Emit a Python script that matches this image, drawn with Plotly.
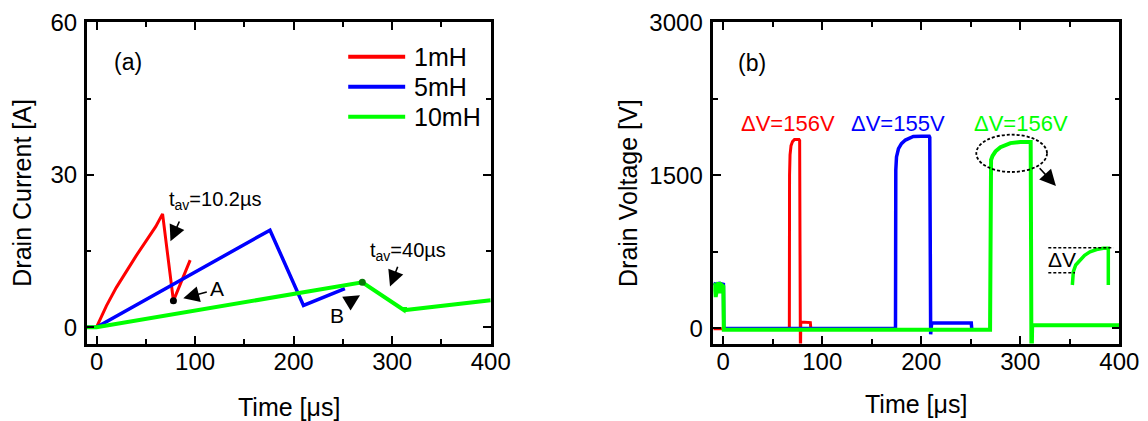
import plotly.graph_objects as go

# ---------------- data: panel (a) drain current ----------------
t_1mH_a = [0, 5, 10, 20, 30, 40, 50, 60, 67, 78, 95]
i_1mH_a = [0, 2.2, 4.2, 7.8, 11.0, 14.0, 16.9, 19.8, 22.3, 5.2, 13.2]
t_5mH_a = [-10, 0, 176, 210, 252]
i_5mH_a = [0, 0, 19.1, 4.3, 7.6]
t_10mH_a = [-10, 0, 269.7, 312.2, 313, 313.6, 400]
i_10mH_a = [0, 0, 8.84, 3.35, 3.9, 3.4, 5.3]
point_A = (78, 5.2)
point_B = (269.7, 8.84)

# ---------------- data: panel (b) drain voltage ----------------
t_1mH_b = [-10, 66.8, 67.0, 67.5, 68.5, 70, 72, 76.5, 77.2, 77.5, 78.0, 78.3, 79, 88, 88.5, 95]
v_1mH_b = [-5, -5, 1500, 1700, 1790, 1830, 1850, 1850, 1840, 1000, -400, 50, 60, 55, -5, -5]
t_5mH_b = [-10, -7, -4, -1, 0.2, 0.6, 174, 174.3, 175, 177, 180, 184, 188, 192, 200, 208,
           208.6, 209, 209.5, 210.5, 250.5, 251]
v_5mH_b = [440, 430, 440, 430, 430, -4, -4, 1550, 1680, 1760, 1810, 1845, 1865, 1880, 1882, 1882,
           1870, 500, -60, 50, 50, -4]
t_10mH_b = [-10, -8.8, -7.6, -6.2, -4.9, -3.2, -1.6, 0.2, 0.6, 269.5, 269.9, 270.5, 272, 275, 280,
            285, 290, 300, 310.5, 310.9, 311.3, 312, 313, 400]
v_10mH_b = [440, 420, 306, 420, 451, 345, 424, 410, -14, -14, 1400, 1650, 1690, 1735, 1775,
            1800, 1815, 1825, 1825, 800, -400, 20, 30, 30]
# magnified inset of the 10mH plateau
t_inset = [352.6, 353.6, 356, 360.3, 365, 370.4, 377, 383.9, 388.9, 388.9]
v_inset = [423.7, 554, 620, 669, 715, 750, 772, 783.6, 783.6, 423.7]

series_names = ["1mH", "5mH", "10mH"]
series_colors = ["#FF0000", "#0000FF", "#00FF00"]
series_widths = [3, 3.5, 4]

FONT = "Liberation Sans, Arial, sans-serif"

fig = go.Figure()

data_a = [(t_1mH_a, i_1mH_a), (t_5mH_a, i_5mH_a), (t_10mH_a, i_10mH_a)]
data_b = [(t_1mH_b, v_1mH_b), (t_5mH_b, v_5mH_b), (t_10mH_b, v_10mH_b)]
for k in range(3):
    fig.add_trace(go.Scatter(x=data_a[k][0], y=data_a[k][1], mode="lines", name=series_names[k],
                             line=dict(color=series_colors[k], width=series_widths[k]),
                             xaxis="x", yaxis="y", showlegend=False))
for k in range(3):
    fig.add_trace(go.Scatter(x=data_b[k][0], y=data_b[k][1], mode="lines", name=series_names[k],
                             line=dict(color=series_colors[k], width=series_widths[k]),
                             xaxis="x2", yaxis="y2", showlegend=False))
fig.add_trace(go.Scatter(x=t_inset, y=v_inset, mode="lines", name="10mH inset",
                         line=dict(color="#00FF00", width=3.5), xaxis="x2", yaxis="y2", showlegend=False))
fig.add_trace(go.Scatter(x=[point_A[0]], y=[point_A[1]], mode="markers", marker=dict(color="black", size=7),
                         xaxis="x", yaxis="y", showlegend=False))
fig.add_trace(go.Scatter(x=[point_B[0]], y=[point_B[1]], mode="markers", marker=dict(color="#0A7A0A", size=7),
                         xaxis="x", yaxis="y", showlegend=False))

W, H = 1148, 421
def px(x):
    return x / W
def py(y):
    return (H - y) / H

axis_common = dict(showline=True, linewidth=2.5, linecolor="black", mirror="allticks",
                   ticks="inside", ticklen=8, tickwidth=2, tickcolor="black",
                   showgrid=False, zeroline=False, automargin=False,
                   tickfont=dict(family=FONT, size=24, color="black"))

ydom = [py(343.5), py(22.3)]
fig.update_layout(
    template="none",
    width=W, height=H, margin=dict(l=0, r=0, t=0, b=0, autoexpand=False),
    plot_bgcolor="white", paper_bgcolor="white",
    font=dict(family=FONT, color="black"),
    xaxis=dict(domain=[px(86.7), px(490.7)], range=[-10, 400], tick0=0, dtick=100,
               minor=dict(ticks="inside", ticklen=5, tickwidth=2, dtick=50, tick0=0, tickcolor="black"),
               ticklabelstandoff=-5, anchor="y", **axis_common),
    yaxis=dict(domain=ydom, range=[-3.2, 60], tick0=0, dtick=30,
               minor=dict(ticks="inside", ticklen=5, tickwidth=2, dtick=15, tick0=0, tickcolor="black"),
               ticklabelstandoff=2, anchor="x", **axis_common),
    xaxis2=dict(domain=[px(713.3), px(1119.3)], range=[-10, 400], tick0=0, dtick=100,
                minor=dict(ticks="inside", ticklen=5, tickwidth=2, dtick=50, tick0=0, tickcolor="black"),
                ticklabelstandoff=-5, anchor="y2", **axis_common),
    yaxis2=dict(domain=ydom, range=[-150, 3000], tick0=0, dtick=1500,
                minor=dict(ticks="inside", ticklen=5, tickwidth=2, dtick=750, tick0=0, tickcolor="black"),
                ticklabelstandoff=3, anchor="x2", **axis_common),
)

ann = []
def text(x, y, s, xref, yref, size=20, color="black", angle=0, xanchor="center"):
    ann.append(dict(x=x, y=y, xref=xref, yref=yref, text=s, showarrow=False, textangle=angle,
                    xanchor=xanchor, yanchor="middle",
                    font=dict(family=FONT, size=size, color=color)))

def arrow(x0, y0, x1, y1, xr, yr):
    ann.append(dict(x=x1, y=y1, ax=x0, ay=y0, xref=xr, yref=yr, axref=xr, ayref=yr, text="",
                    showarrow=True, arrowhead=2, arrowsize=2.0, arrowwidth=1.6, arrowcolor="black"))

# axis titles
text(px(288.7), py(406.7), "Time [μs]", "paper", "paper", size=25)
text(px(916.3), py(404), "Time [μs]", "paper", "paper", size=25)
text(px(21.7), py(193), "Drain Current [A]", "paper", "paper", size=25, angle=-90)
text(px(628), py(193), "Drain Voltage [V]", "paper", "paper", size=25, angle=-90)

# panel (a)
text(31.9, 52.2, "(a)", "x", "y", size=23)
text(121, 24.9, "t<sub>av</sub>=10.2µs", "x", "y", size=20)
arrow(84.7, 21.1, 75.0, 16.9, "x", "y")
text(122.7, 7.7, "A", "x", "y", size=21)
arrow(113.4, 7.0, 88.0, 5.7, "x", "y")
text(315.6, 14.9, "t<sub>av</sub>=40µs", "x", "y", size=20)
arrow(306.2, 12.2, 297.8, 8.0, "x", "y")
text(243.7, 2.4, "B", "x", "y", size=21)
arrow(253.9, 4.7, 267.4, 6.3, "x", "y")

# manual legend in panel (a)
legend_y = [53.2, 47.3, 41.4]
shapes = []
for k in range(3):
    shapes.append(dict(type="line", xref="x", yref="y", x0=255.4, x1=313.2, y0=legend_y[k], y1=legend_y[k],
                       line=dict(color=series_colors[k], width=4)))
    text(320, legend_y[k], series_names[k], "x", "y", size=25, xanchor="left")

# panel (b)
text(28.8, 2597, "(b)", "x2", "y2", size=23)
text(65.7, 2009, "ΔV=156V", "x2", "y2", size=22, color="#FF0000")
text(176.8, 2009, "ΔV=155V", "x2", "y2", size=22, color="#0000FF")
text(300.4, 2009, "ΔV=156V", "x2", "y2", size=22, color="#00FF00")
shapes.append(dict(type="circle", xref="x2", yref="y2", x0=255.6, x1=327, y0=1532, y1=1898,
                   line=dict(color="black", width=1.8, dash="3px,2px")))
arrow(318.2, 1584, 336, 1395, "x2", "y2")
shapes.append(dict(type="line", xref="x2", yref="y2", x0=328.3, x1=394, y0=789, y1=789,
                   line=dict(color="black", width=1.5, dash="3px,2px")))
shapes.append(dict(type="line", xref="x2", yref="y2", x0=328.3, x1=355.3, y0=544, y1=544,
                   line=dict(color="black", width=1.5, dash="3px,2px")))
text(341.9, 669, "ΔV", "x2", "y2", size=21)

fig.update_layout(annotations=ann, shapes=shapes)
fig.write_html("out.html", config={"displayModeBar": False},
               post_script="document.body.style.margin='0px';document.body.style.overflow='hidden';")
